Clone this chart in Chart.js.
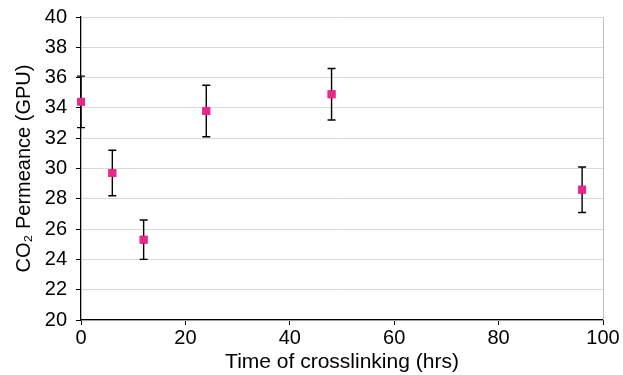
<!DOCTYPE html>
<html>
<head>
<meta charset='UTF-8'>
<style>
    body { margin: 0; background: #fff; }
    #wrap { width: 623px; height: 375px; }
</style>
</head>
<body>
<div id='wrap'><canvas id='chart'></canvas></div>
<script src='https://cdn.jsdelivr.net/npm/chart.js'></script>
<script>
    const hours = [0, 6, 12, 24, 48, 96];
    const permeance = [34.4, 29.7, 25.3, 33.8, 34.9, 28.6];
    const errors = [1.7, 1.5, 1.3, 1.7, 1.7, 1.5];
    const xTicks = [0, 20, 40, 60, 80, 100];
    const yTicks = [20, 22, 24, 26, 28, 30, 32, 34, 36, 38, 40];

    const family = "'Liberation Sans', Arial, sans-serif";

    // error bars + grey right frame line
    const errorBars = {
        id: 'errorBars',
        afterDatasetsDraw(chart) {
            const ctx = chart.ctx;
            const x = chart.scales.x, y = chart.scales.y;
            const area = chart.chartArea;
            ctx.save();
            ctx.strokeStyle = '#c0c0c0';
            ctx.lineWidth = 1;
            ctx.beginPath();
            ctx.moveTo(Math.round(area.right) + 0.5, area.top);
            ctx.lineTo(Math.round(area.right) + 0.5, area.bottom);
            ctx.stroke();

            ctx.strokeStyle = '#000';
            ctx.lineWidth = 1.4;
            hours.forEach((h, i) => {
                const px = x.getPixelForValue(h);
                const top = y.getPixelForValue(permeance[i] + errors[i]);
                const bot = y.getPixelForValue(permeance[i] - errors[i]);
                ctx.beginPath();
                ctx.moveTo(px, top); ctx.lineTo(px, bot);
                ctx.moveTo(px - 4, top); ctx.lineTo(px + 4, top);
                ctx.moveTo(px - 4, bot); ctx.lineTo(px + 4, bot);
                ctx.stroke();
            });
            ctx.restore();
            // redraw markers on top of bars
            chart.getDatasetMeta(0).data.forEach(p => p.draw(ctx));
        }
    };

    new Chart(document.getElementById('chart'), {
        type: 'scatter',
        data: {
            datasets: [{
                data: hours.map((h, i) => ({ x: h, y: permeance[i] })),
                pointStyle: 'rect',
                pointRadius: 5.6,
                backgroundColor: '#e8288a',
                borderColor: '#e8288a',
                borderWidth: 0
            }]
        },
        options: {
            responsive: true,
            maintainAspectRatio: false,
            animation: false,
            layout: { padding: { top: 17, right: 20, left: 0, bottom: 0 } },
            plugins: { legend: { display: false }, tooltip: { enabled: false } },
            scales: {
                x: {
                    type: 'linear', min: 0, max: 100,
                    afterBuildTicks: s => { s.ticks = xTicks.map(v => ({ value: v })); },
                    grid: { drawOnChartArea: false, drawTicks: true, tickLength: 5, tickColor: '#000' },
                    border: { color: '#000', width: 1.3 },
                    ticks: { color: '#000', font: { family, size: 20 }, padding: 1, maxRotation: 0 },
                    title: { display: true, text: 'Time of crosslinking (hrs)', color: '#000', font: { family, size: 21 }, padding: { top: 0, bottom: 0 } },
                    afterFit: s => { s.height = 55; s.paddingLeft = 0; s.paddingRight = 0; }
                },
                y: {
                    min: 20, max: 40,
                    afterBuildTicks: s => { s.ticks = yTicks.map(v => ({ value: v })); },
                    grid: { color: '#d9d9d9', lineWidth: 1, tickLength: 5, tickColor: '#000' },
                    border: { color: '#000', width: 1.3 },
                    ticks: { color: '#000', font: { family, size: 20 }, padding: 9 },
                    title: { display: true, text: 'CO\u2082 Permeance (GPU)', color: '#000', font: { family, size: 20 }, padding: { top: 12, bottom: 0 } },
                    afterFit: s => { s.width = 81; s.paddingTop = 0; s.paddingBottom = 0; }
                }
            }
        },
        plugins: [errorBars]
    });
</script>
</body>
</html>
